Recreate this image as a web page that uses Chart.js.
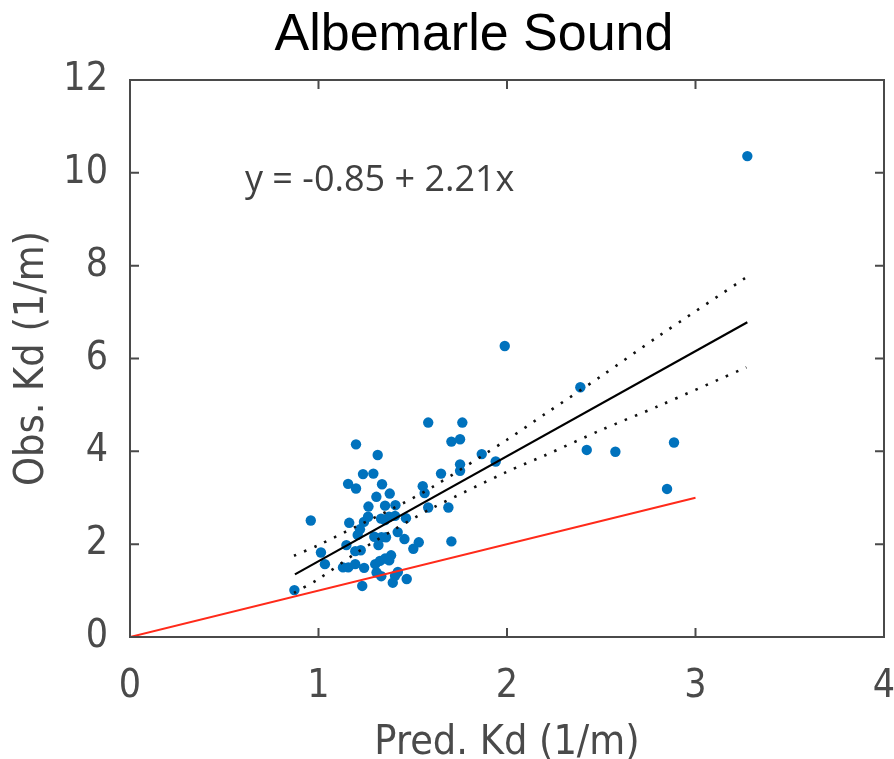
<!DOCTYPE html>
<html>
<head>
<meta charset="utf-8">
<script src="https://cdn.jsdelivr.net/npm/chart.js@4.4.1/dist/chart.umd.min.js"></script>
<style>
  html, body { margin: 0; padding: 0; background: #fff; }
  #wrap { width: 894px; height: 759px; }
</style>
</head>
<body>
<div id="wrap"><canvas id="kdChart" width="894" height="759"></canvas></div>
<script>
const predKd = [
  3.275, 1.988, 2.389, 1.582, 1.763, 1.199, 1.314, 1.705, 1.751, 1.866,
  2.423, 2.575, 2.886, 1.940, 1.751, 1.751, 1.650, 1.236, 1.291, 1.157,
  1.199, 1.337, 1.553, 1.563, 1.307, 1.378, 1.265, 1.353, 1.408, 1.582,
  1.689, 0.959, 1.163, 1.263, 1.241, 1.332, 1.353, 1.374, 1.406, 1.464,
  1.220, 1.208, 1.296, 1.334, 1.358, 1.420, 1.456, 1.318, 1.148, 1.532,
  1.503, 1.705, 1.013, 1.195, 1.224, 1.034, 1.130, 1.158, 1.195, 1.242,
  1.301, 1.326, 1.353, 1.385, 1.375, 1.308, 1.333, 1.421, 1.406, 1.468,
  1.394, 1.232, 0.872, 2.849
];
const obsKd = [
  10.36, 6.27, 5.38, 4.62, 4.62, 4.15, 3.92, 4.21, 4.26, 3.94,
  4.03, 3.99, 4.19, 3.78, 3.72, 3.58, 3.52, 3.51, 3.52, 3.30,
  3.20, 3.29, 3.25, 3.10, 3.02, 3.09, 2.81, 2.83, 2.84, 2.79,
  2.79, 2.51, 2.46, 2.59, 2.48, 2.55, 2.52, 2.59, 2.61, 2.56,
  2.32, 2.20, 2.16, 2.15, 2.15, 2.26, 2.11, 1.98, 1.98, 2.04,
  1.90, 2.06, 1.82, 1.85, 1.87, 1.57, 1.50, 1.50, 1.57, 1.49,
  1.57, 1.64, 1.69, 1.76, 1.65, 1.39, 1.31, 1.40, 1.32, 1.25,
  1.17, 1.10, 1.01, 3.19
];

// regression line and its confidence band
const fitX = [0.875, 3.275];
const fitY = [1.35, 6.78];
const bandX = [0.87, 1.0, 1.2, 1.4, 1.6, 2.0, 2.2, 2.5, 2.8, 3.27];
const bandUpper = [1.75, 1.98, 2.38, 2.78, 3.22, 4.25, 4.80, 5.62, 6.47, 7.75];
const bandLower = [0.95, 1.25, 1.81, 2.31, 2.77, 3.56, 3.91, 4.46, 4.97, 5.81];

// 1:1 line
const oneX = [0, 3];
const oneY = [0, 3];

const xTicks = [0, 1, 2, 3, 4];
const yTicks = [0, 2, 4, 6, 8, 10, 12];

const titleText = "Albemarle Sound";
const eqText = "y = -0.85 + 2.21x";

const axisColor = "#4a4a4a";
const tickFont = "'Liberation Sans Narrow', 'DejaVu Sans Condensed', 'Open Sans', sans-serif";

const toXY = (xs, ys) => xs.map((v, i) => ({ x: v, y: ys[i] }));

const frameTicks = {
  id: "frameTicks",
  afterDraw(chart) {
    const { ctx, chartArea: a, scales } = chart;
    const x = scales.x;
    const y = scales.y;
    ctx.save();
    ctx.strokeStyle = axisColor;
    ctx.lineWidth = 2;
    ctx.strokeRect(a.left, a.top, a.right - a.left, a.bottom - a.top);
    ctx.beginPath();
    xTicks.forEach((v) => {
      const px = x.getPixelForValue(v);
      ctx.moveTo(px, a.bottom);
      ctx.lineTo(px, a.bottom - 9);
      ctx.moveTo(px, a.top);
      ctx.lineTo(px, a.top + 9);
    });
    yTicks.forEach((v) => {
      const py = y.getPixelForValue(v);
      ctx.moveTo(a.left, py);
      ctx.lineTo(a.left + 9, py);
      ctx.moveTo(a.right, py);
      ctx.lineTo(a.right - 9, py);
    });
    ctx.stroke();

    // title
    ctx.fillStyle = "#000";
    ctx.font = "52px 'Liberation Sans', Arial, sans-serif";
    ctx.textAlign = "center";
    ctx.textBaseline = "alphabetic";
    ctx.fillText(titleText, 474, 50);

    // regression equation
    ctx.fillStyle = "#404040";
    ctx.font = "36px 'Open Sans', sans-serif";
    ctx.textAlign = "left";
    ctx.fillText(eqText, x.getPixelForValue(0.61), y.getPixelForValue(9.6));
    ctx.restore();
  },
};

const noSidePad = (s) => {
  s.paddingLeft = 0;
  s.paddingRight = 0;
  s.paddingTop = 0;
  s.paddingBottom = 0;
};

const ctx = document.getElementById("kdChart").getContext("2d");
new Chart(ctx, {
  type: "scatter",
  data: {
    datasets: [
      {
        label: "obs",
        data: toXY(predKd, obsKd),
        backgroundColor: "#0072BD",
        borderWidth: 0,
        pointRadius: 5.2,
        order: 5,
      },
      {
        label: "1:1",
        type: "line",
        data: toXY(oneX, oneY),
        borderColor: "#ff2a1a",
        borderWidth: 2,
        pointRadius: 0,
        fill: false,
        order: 1,
      },
      {
        label: "upper",
        type: "line",
        data: toXY(bandX, bandUpper),
        borderColor: "#111",
        borderWidth: 2.6,
        borderDash: [2.5, 8.5],
        pointRadius: 0,
        tension: 0.3,
        fill: false,
        order: 1,
      },
      {
        label: "lower",
        type: "line",
        data: toXY(bandX, bandLower),
        borderColor: "#111",
        borderWidth: 2.6,
        borderDash: [2.5, 8.5],
        pointRadius: 0,
        tension: 0.3,
        fill: false,
        order: 1,
      },
      {
        label: "fit",
        type: "line",
        data: toXY(fitX, fitY),
        borderColor: "#000",
        borderWidth: 2.2,
        pointRadius: 0,
        fill: false,
        order: 0,
      },
    ],
  },
  options: {
    responsive: false,
    animation: false,
    layout: { padding: { top: 80, right: 10, left: 0, bottom: 0 } },
    plugins: {
      legend: { display: false },
      tooltip: { enabled: false },
    },
    scales: {
      x: {
        type: "linear",
        min: 0,
        max: 4,
        afterFit: (s) => { s.height = 122; noSidePad(s); },
        afterBuildTicks: (s) => { s.ticks = xTicks.map((v) => ({ value: v })); },
        grid: { display: false, drawTicks: false },
        border: { display: false },
        ticks: {
          color: axisColor,
          font: { family: tickFont, size: 39 },
          padding: 26,
        },
        title: {
          display: true,
          text: "Pred. Kd (1/m)",
          color: axisColor,
          font: { family: tickFont, size: 41 },
          padding: { top: 0, bottom: -9 },
        },
      },
      y: {
        type: "linear",
        min: 0,
        max: 12,
        afterFit: (s) => { s.width = 130; noSidePad(s); },
        afterBuildTicks: (s) => { s.ticks = yTicks.map((v) => ({ value: v })); },
        grid: { display: false, drawTicks: false },
        border: { display: false },
        ticks: {
          color: axisColor,
          font: { family: tickFont, size: 39 },
          padding: 22,
        },
        title: {
          display: true,
          text: "Obs. Kd (1/m)",
          color: axisColor,
          font: { family: tickFont, size: 41 },
          padding: { top: 8, bottom: 0 },
        },
      },
    },
  },
  plugins: [frameTicks],
});
</script>
</body>
</html>
